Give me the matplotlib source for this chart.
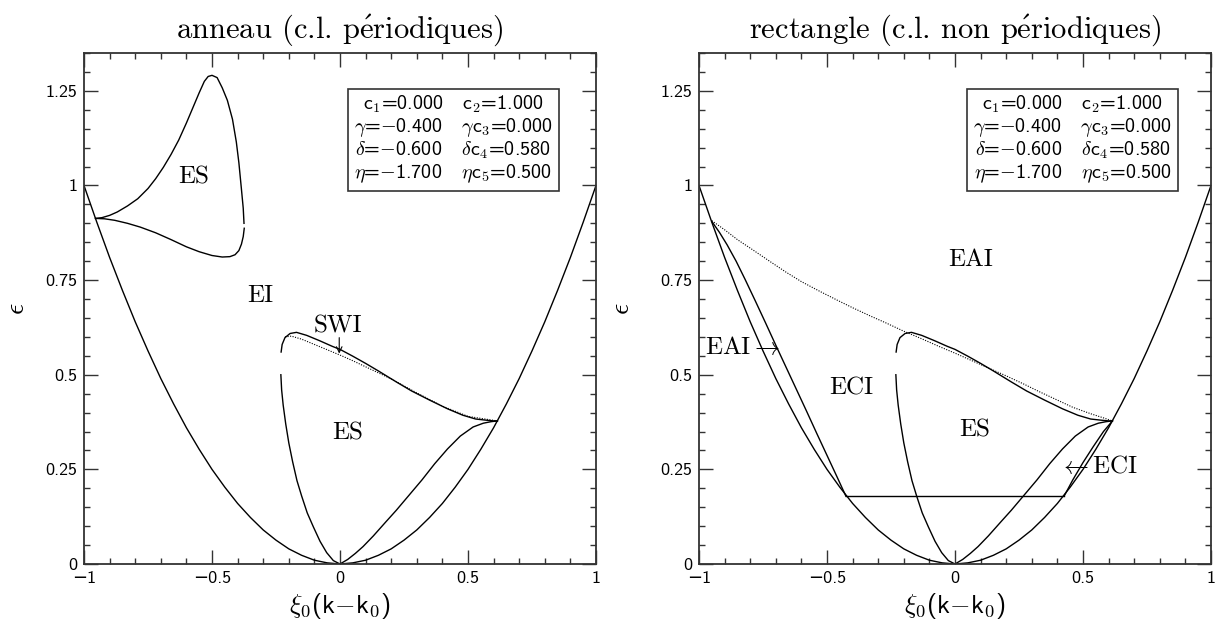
import matplotlib
matplotlib.use('Agg')
import matplotlib.pyplot as plt
from matplotlib.ticker import MultipleLocator

plt.rcParams['mathtext.fontset'] = 'cm'

# neutral curve eps(xi)
xi_par = [-1.00, -0.95, -0.90, -0.85, -0.80, -0.75, -0.70, -0.65, -0.60, -0.55, -0.50,
          -0.45, -0.40, -0.35, -0.30, -0.25, -0.20, -0.15, -0.10, -0.05, 0.00,
          0.05, 0.10, 0.15, 0.20, 0.25, 0.30, 0.35, 0.40, 0.45, 0.50,
          0.55, 0.60, 0.65, 0.70, 0.75, 0.80, 0.85, 0.90, 0.95, 1.00]
eps_par = [1.000, 0.903, 0.810, 0.723, 0.640, 0.563, 0.490, 0.423, 0.360, 0.303, 0.250,
           0.203, 0.160, 0.123, 0.090, 0.063, 0.040, 0.023, 0.010, 0.003, 0.000,
           0.003, 0.010, 0.023, 0.040, 0.063, 0.090, 0.123, 0.160, 0.203, 0.250,
           0.303, 0.360, 0.423, 0.490, 0.563, 0.640, 0.723, 0.810, 0.903, 1.000]

# left panel: ES loop near xi=-0.5
xi_loop_up = [-0.955, -0.93, -0.90, -0.87, -0.83, -0.79, -0.75, -0.72, -0.69, -0.66,
              -0.63, -0.60, -0.575, -0.55, -0.53, -0.515, -0.50, -0.48, -0.46, -0.44,
              -0.42, -0.405, -0.395, -0.385, -0.378, -0.375]
eps_loop_up = [0.913, 0.915, 0.921, 0.930, 0.946, 0.965, 0.992, 1.018, 1.048, 1.082,
               1.120, 1.165, 1.205, 1.245, 1.275, 1.288, 1.291, 1.285, 1.258, 1.225,
               1.175, 1.115, 1.060, 0.990, 0.940, 0.900]
xi_loop_lo = [-0.955, -0.92, -0.88, -0.83, -0.78, -0.72, -0.66, -0.60, -0.55, -0.50,
              -0.46, -0.43, -0.41, -0.395, -0.385, -0.378, -0.374]
eps_loop_lo = [0.913, 0.912, 0.908, 0.900, 0.890, 0.875, 0.857, 0.838, 0.825, 0.815,
               0.811, 0.812, 0.817, 0.828, 0.845, 0.865, 0.887]

# ES boundary (both panels)
xi_es_top = [-0.230, -0.226, -0.215, -0.195, -0.17, -0.13, -0.08, -0.03, 0.0, 0.05,
             0.10, 0.15, 0.22, 0.28, 0.35, 0.42, 0.48, 0.53, 0.57, 0.60, 0.615]
eps_es_top = [0.560, 0.580, 0.598, 0.609, 0.612, 0.604, 0.590, 0.575, 0.567, 0.549,
              0.530, 0.510, 0.481, 0.457, 0.433, 0.410, 0.393, 0.383, 0.380, 0.378, 0.378]
xi_es_left = [-0.231, -0.228, -0.222, -0.212, -0.200, -0.185, -0.168, -0.150, -0.128,
              -0.104, -0.078, -0.052, -0.026, 0.0]
eps_es_left = [0.500, 0.460, 0.420, 0.370, 0.320, 0.270, 0.220, 0.180, 0.135,
               0.098, 0.060, 0.030, 0.009, 0.0]
xi_es_right = [0.0, 0.03, 0.06, 0.09, 0.13, 0.18, 0.22, 0.27, 0.32, 0.37, 0.42, 0.47,
               0.52, 0.56, 0.59, 0.615]
eps_es_right = [0.0, 0.012, 0.028, 0.046, 0.074, 0.112, 0.142, 0.182, 0.222, 0.265,
                0.304, 0.338, 0.362, 0.372, 0.376, 0.378]

# dotted curves
xi_dot_l = [-0.215, -0.19, -0.15, -0.10, -0.05, 0.0, 0.05, 0.10, 0.15, 0.20, 0.30,
            0.40, 0.50, 0.615]
eps_dot_l = [0.600, 0.602, 0.594, 0.580, 0.566, 0.552, 0.537, 0.521, 0.505, 0.489,
             0.452, 0.417, 0.390, 0.378]
xi_dot_r = [-0.95, -0.90, -0.85, -0.79, -0.72, -0.66, -0.60, -0.53, -0.46, -0.40, -0.33,
            -0.27, -0.20, -0.13, -0.07, 0.0, 0.07, 0.13, 0.20, 0.27, 0.33, 0.40, 0.46,
            0.53, 0.58, 0.615]
eps_dot_r = [0.907, 0.883, 0.857, 0.830, 0.798, 0.771, 0.746, 0.721, 0.697, 0.677, 0.655,
             0.637, 0.615, 0.595, 0.577, 0.557, 0.536, 0.518, 0.497, 0.475, 0.455, 0.433,
             0.414, 0.397, 0.386, 0.378]

# right panel: EAI / ECI boundaries
xi_eai = [-0.95, -0.92, -0.89, -0.855, -0.82, -0.78, -0.74, -0.70, -0.66, -0.62, -0.58,
          -0.54, -0.50, -0.46, -0.426]
eps_eai = [0.905, 0.876, 0.843, 0.800, 0.752, 0.695, 0.637, 0.578, 0.520, 0.462, 0.404,
           0.345, 0.287, 0.229, 0.179]
xi_eci = [0.426, 0.46, 0.50, 0.54, 0.58, 0.615]
eps_eci = [0.179, 0.222, 0.268, 0.310, 0.350, 0.378]
xi_flat = [-0.426, 0.426]
eps_flat = [0.179, 0.179]

params = ('c$_1$=0.000   c$_2$=1.000\n'
          '$\\gamma$=$-$0.400   $\\gamma$c$_3$=0.000\n'
          '$\\delta$=$-$0.600   $\\delta$c$_4$=0.580\n'
          '$\\eta$=$-$1.700   $\\eta$c$_5$=0.500')

SANS = ['cmss10', 'DejaVu Sans']
SERIF = ['cmr10', 'DejaVu Serif']
EDGE = '#333333'
LW = 1.0
E_ACUTE = r'$\acute{\mathrm{e}}$'


def setup(ax, title, ylab_x):
    ax.set_xlim(-1, 1)
    ax.set_ylim(0, 1.35)
    ax.set_xticks([-1, -0.5, 0, 0.5, 1])
    ax.set_xticklabels(['\u22121', '\u22120.5', '0', '0.5', '1'], family=SANS, fontsize=13)
    ax.set_yticks([0, 0.25, 0.5, 0.75, 1, 1.25])
    ax.set_yticklabels(['0', '0.25', '0.5', '0.75', '1', '1.25'], family=SANS, fontsize=13)
    ax.xaxis.set_minor_locator(MultipleLocator(0.1))
    ax.yaxis.set_minor_locator(MultipleLocator(0.05))
    ax.tick_params(which='both', direction='in', top=True, right=True, color=EDGE, width=1.0)
    ax.tick_params(which='major', length=10, pad=5)
    ax.tick_params(which='minor', length=4)
    for s in ax.spines.values():
        s.set_color(EDGE)
        s.set_linewidth(1.3)
    ax.set_title(title, family=SERIF, fontsize=22, pad=11)
    ax.set_xlabel(r'$\xi_0$(k$-$k$_0$)', family=SANS, fontsize=19)
    ax.xaxis.set_label_coords(0.5, -0.052)
    ax.set_ylabel(r'$\epsilon$', fontsize=20)
    ax.yaxis.set_label_coords(ylab_x, 0.5)


def common(ax):
    kw = dict(color='black', lw=LW)
    ax.plot(xi_par, eps_par, **kw)
    ax.plot(xi_es_top, eps_es_top, **kw)
    ax.plot(xi_es_left, eps_es_left, **kw)
    ax.plot(xi_es_right, eps_es_right, **kw)


def label(ax, x, y, s):
    ax.text(x, y, s, family=SERIF, fontsize=18, ha='center', va='center')


def param_box(ax, x):
    ax.text(x, 1.122, params, family=SANS, fontsize=14.5, ha='center', va='center',
            linespacing=1.05,
            bbox=dict(boxstyle='square,pad=0.3', fc='white', ec=EDGE, lw=1.2))


fig = plt.figure(figsize=(12.2, 6.27), dpi=100)
ax1 = fig.add_axes([84 / 1220, 63 / 627, 512 / 1220, 511 / 627])
ax2 = fig.add_axes([699 / 1220, 63 / 627, 512 / 1220, 511 / 627])

# left: ring, periodic b.c.
setup(ax1, 'anneau (c.l. p' + E_ACUTE + 'riodiques)', -0.105)
common(ax1)
ax1.plot(xi_loop_up, eps_loop_up, color='black', lw=LW)
ax1.plot(xi_loop_lo, eps_loop_lo, color='black', lw=LW)
ax1.plot(xi_dot_l, eps_dot_l, color='black', lw=0.8, ls=(0, (1, 1.3)))
label(ax1, -0.57, 1.02, 'ES')
label(ax1, -0.31, 0.707, 'EI')
label(ax1, -0.007, 0.628, 'SWI')
ax1.annotate('', xy=(-0.003, 0.556), xytext=(-0.003, 0.598),
             arrowprops=dict(arrowstyle='->', lw=0.8, color='black', shrinkA=0, shrinkB=0))
label(ax1, 0.03, 0.346, 'ES')
param_box(ax1, 0.443)

# right: rectangle, non-periodic b.c.
setup(ax2, 'rectangle (c.l. non p' + E_ACUTE + 'riodiques)', -0.125)
common(ax2)
ax2.plot(xi_eai, eps_eai, color='black', lw=LW)
ax2.plot(xi_eci, eps_eci, color='black', lw=LW)
ax2.plot(xi_flat, eps_flat, color='black', lw=LW)
ax2.plot(xi_dot_r, eps_dot_r, color='black', lw=0.8, ls=(0, (1, 1.3)))
label(ax2, 0.06, 0.804, 'EAI')
label(ax2, -0.83, 0.573, r'EAI$\rightarrow$')
label(ax2, -0.405, 0.465, 'ECI')
label(ax2, 0.075, 0.352, 'ES')
label(ax2, 0.56, 0.257, r'$\leftarrow$ECI')
param_box(ax2, 0.459)

fig.savefig('out.png', dpi=100)
